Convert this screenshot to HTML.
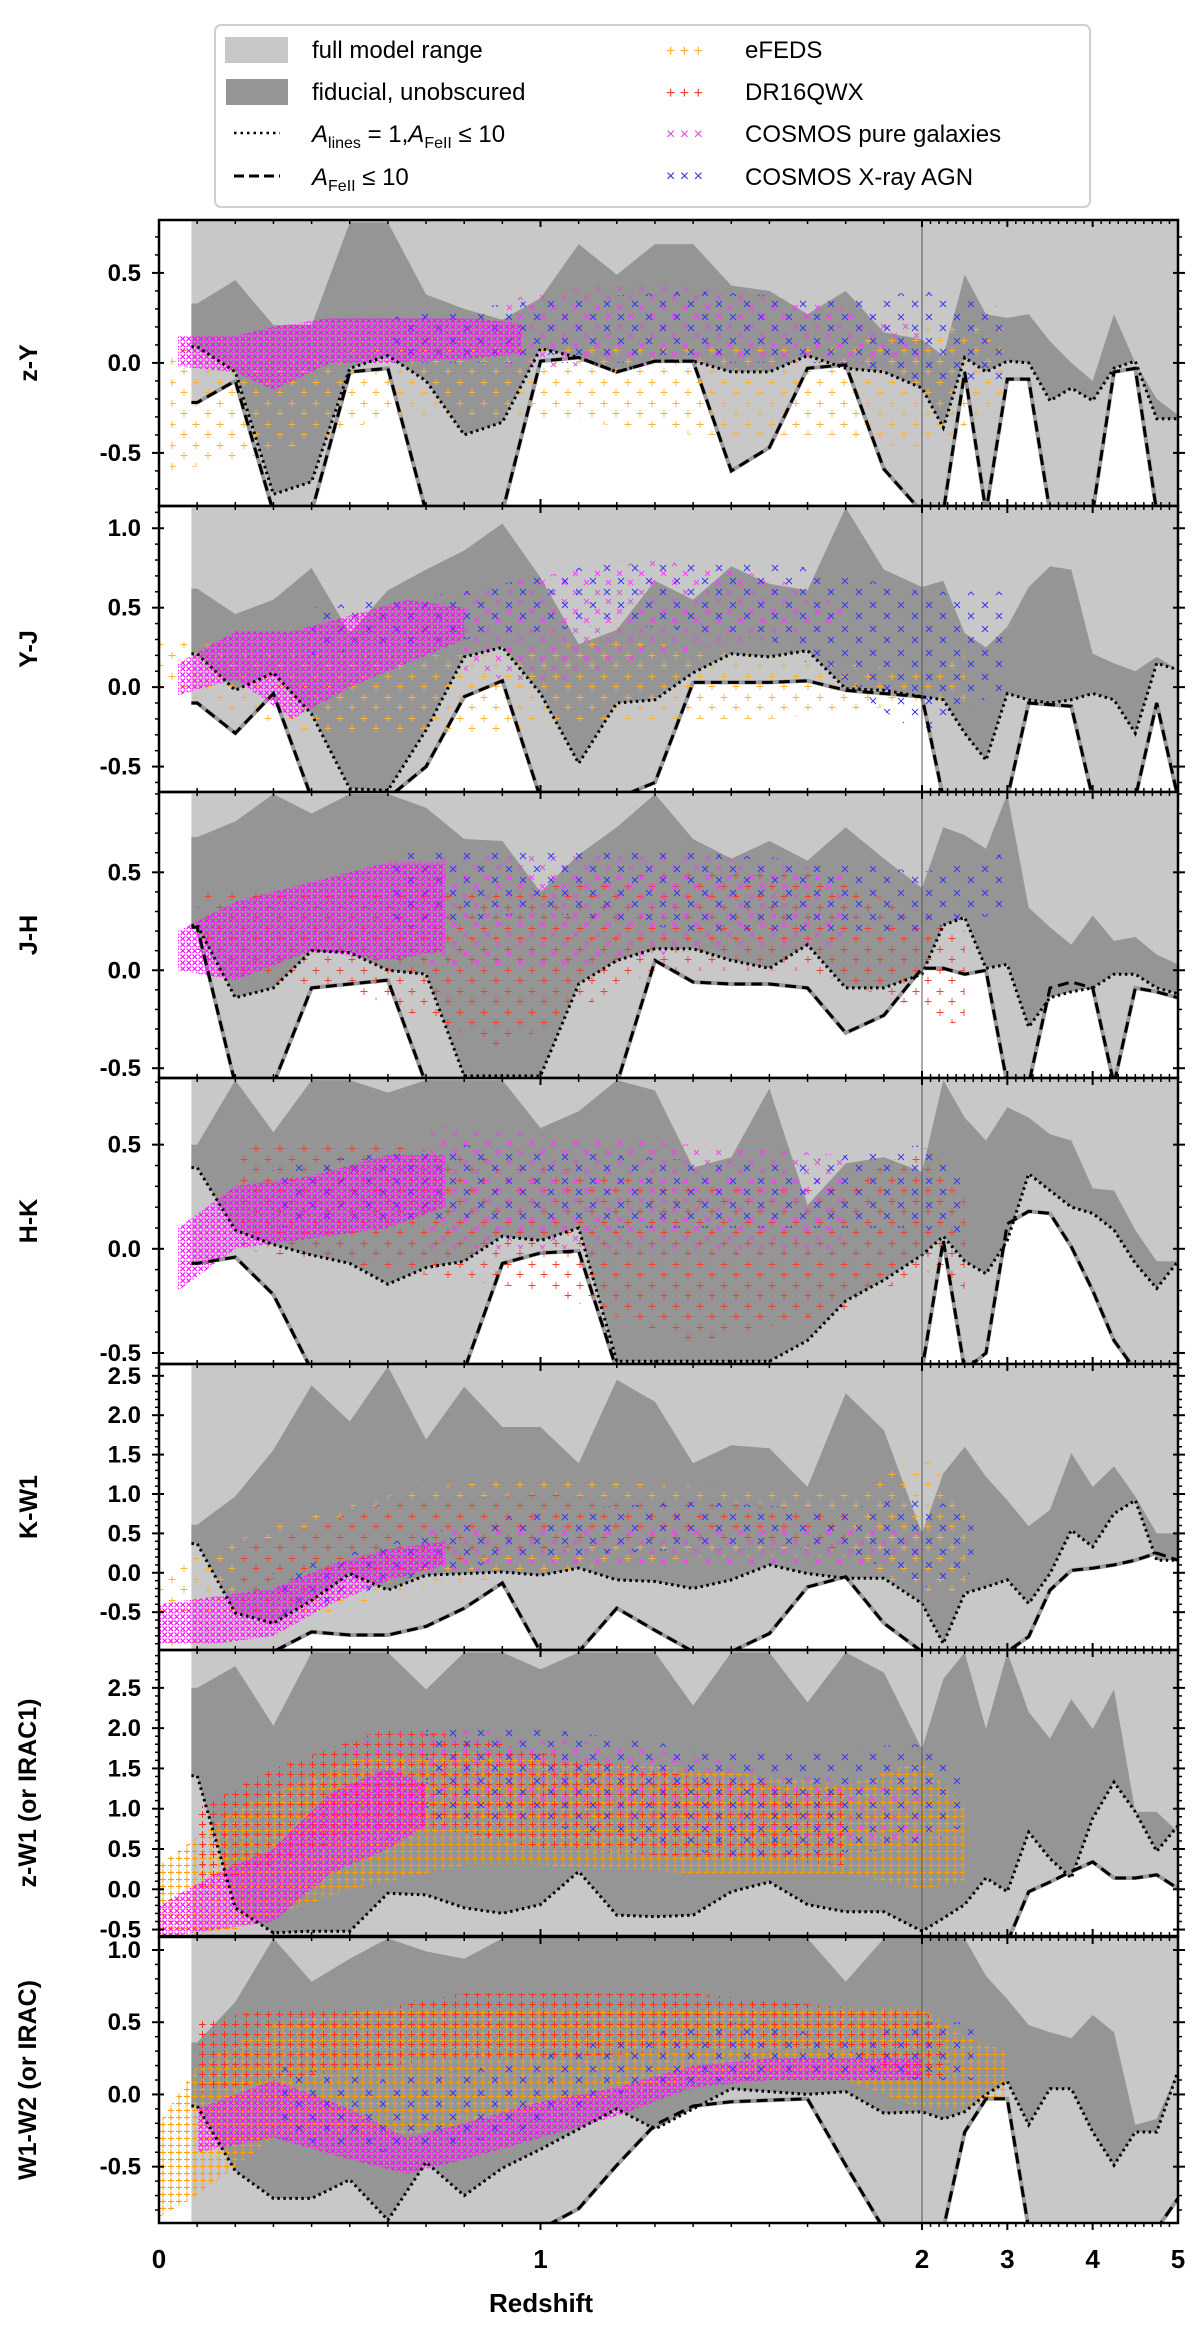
<!DOCTYPE html>
<html><head><meta charset="utf-8">
<style>
html,body{margin:0;padding:0;background:#fff;}
svg{display:block;font-family:"Liberation Sans",Arial,sans-serif;}
</style></head>
<body>
<svg id="chart" width="1200" height="2348" viewBox="0 0 1200 2348" xmlns="http://www.w3.org/2000/svg">
<defs>
<pattern id="magD" patternUnits="userSpaceOnUse" width="6" height="6"><path d="M0.5 0.5L5 5M5 0.5L0.5 5" stroke="#ff00ff" stroke-width="1.1"/></pattern>
<pattern id="magS" patternUnits="userSpaceOnUse" width="22" height="19"><path d="M1 1L6 6M6 1L1 6M12 10L17 15M17 10L12 15" stroke="#f040f0" stroke-width="0.9"/></pattern>
<pattern id="oraD" patternUnits="userSpaceOnUse" width="8" height="7"><path d="M3 0.5V6.5M0 3.5H6" stroke="#ffa000" stroke-width="1.1"/></pattern>
<pattern id="oraS" patternUnits="userSpaceOnUse" width="24" height="21"><path d="M4 1V8M0.5 4.5H7.5M16 11V18M12.5 14.5H19.5" stroke="#ffb030" stroke-width="0.9"/></pattern>
<pattern id="redM" patternUnits="userSpaceOnUse" width="11" height="10"><path d="M4.5 1V8M1 4.5H8" stroke="#ff3020" stroke-width="1"/></pattern>
<pattern id="redS" patternUnits="userSpaceOnUse" width="24" height="21"><path d="M4 1V8M0.5 4.5H7.5M16 11V18M12.5 14.5H19.5" stroke="#f04030" stroke-width="0.9"/></pattern>
<pattern id="bluS" patternUnits="userSpaceOnUse" width="28" height="24"><path d="M2 2L8 8M8 2L2 8M16 13L22 19M22 13L16 19" stroke="#3030ff" stroke-width="0.9"/></pattern>
</defs>
<g id="panels"></g>
<g id="legend">
  <rect x="215" y="25" width="875" height="182" rx="6" fill="#fff" stroke="#cfcfcf" stroke-width="2"/>
  <g>
    <rect x="225" y="37" width="63" height="26" fill="#c8c8c8"/>
    <text x="312" y="58" font-size="24">full model range</text>
  </g>
  <g>
    <rect x="226" y="79" width="62" height="26" fill="#959595"/>
    <text x="312" y="100" font-size="24">fiducial, unobscured</text>
  </g>
  <g>
    <line x1="234" y1="133" x2="280" y2="133" stroke="#000" stroke-width="2.5" stroke-dasharray="2.5,4"/>
    <text x="312" y="142" font-size="24"><tspan font-style="italic">A</tspan><tspan font-size="16" dy="6">lines</tspan><tspan dy="-6"> = 1,</tspan><tspan font-style="italic">A</tspan><tspan font-size="16" dy="6">FeII</tspan><tspan dy="-6"> ≤ 10</tspan></text>
  </g>
  <g>
    <line x1="234" y1="176" x2="280" y2="176" stroke="#000" stroke-width="3" stroke-dasharray="10,5"/>
    <text x="312" y="185" font-size="24"><tspan font-style="italic">A</tspan><tspan font-size="16" dy="6">FeII</tspan><tspan dy="-6"> ≤ 10</tspan></text>
  </g>
  <g>
    <text x="666" y="56" font-size="16" fill="#ffb030">+ + +</text>
    <text x="745" y="58" font-size="24">eFEDS</text>
  </g>
  <g>
    <text x="666" y="98" font-size="16" fill="#f04030">+ + +</text>
    <text x="745" y="100" font-size="24">DR16QWX</text>
  </g>
  <g>
    <text x="666" y="139" font-size="16" fill="#f040f0">× × ×</text>
    <text x="745" y="142" font-size="24">COSMOS pure galaxies</text>
  </g>
  <g>
    <text x="666" y="181" font-size="16" fill="#3030ff">× × ×</text>
    <text x="745" y="185" font-size="24">COSMOS X-ray AGN</text>
  </g>
</g>
</svg>
<script>
const Z=[0.1,0.2,0.3,0.4,0.5,0.6,0.7,0.8,0.9,1.0,1.1,1.2,1.3,1.4,1.5,1.6,1.7,1.8,1.9,2.0,2.25,2.5,2.75,3.0,3.25,3.5,3.75,4.0,4.25,4.5,4.75,5.0];
const TITLES=["z-Y","Y-J","J-H","H-K","K-W1","z-W1 (or IRAC1)","W1-W2 (or IRAC)"];
const YMIN=[-0.795,-0.66,-0.55,-0.553,-0.98,-0.58,-0.89];
const YMAX=[0.794,1.14,0.91,0.82,2.65,2.97,1.09];
const YTICKS=[[-0.5,0,0.5],[-0.5,0,0.5,1.0],[-0.5,0,0.5],[-0.5,0,0.5],[-0.5,0,0.5,1.0,1.5,2.0,2.5],[-0.5,0,0.5,1.0,1.5,2.0,2.5],[-0.5,0,0.5,1.0]];
const XTICKS=[0,1,2,3,4,5];
const XTICK_LABELS=["0","1","2","3","4","5"];

const fidHi1=[0.33,0.46,0.21,0.21,0.78,0.78,0.38,0.30,0.24,0.36,0.66,0.49,0.66,0.66,0.43,0.40,0.27,0.40,0.17,0.13,0.04,0.49,0.27,0.25,0.27,0.12,0.0,-0.10,0.27,0.0,-0.20,-0.29];
const fidLo1=[0.09,-0.05,-0.73,-0.66,-0.03,0.04,-0.10,-0.40,-0.33,0.08,0.03,-0.05,0.01,0.01,-0.05,-0.05,0.04,-0.03,-0.05,-0.14,-0.36,0.03,-0.05,0.01,0.0,-0.21,-0.14,-0.21,-0.03,0.01,-0.31,-0.31];
const fullLo1=[-0.22,-0.1,-1,-1,-0.05,-0.03,-1,-1,-1,0.01,0.03,-0.05,0.01,0.01,-0.6,-0.47,-0.03,-0.01,-0.59,-1,-1,-0.05,-1,-0.09,-0.09,-1,-1,-1,-0.05,-0.03,-1,-1];

const fidHi2=[0.62,0.46,0.55,0.75,0.34,0.61,0.74,0.86,1.03,0.69,0.27,0.36,0.67,0.55,0.76,0.65,0.61,1.13,0.74,0.63,0.67,0.34,0.25,0.38,0.63,0.76,0.74,0.21,0.15,0.1,0.19,0.11];
const fidLo2=[0.21,-0.02,0.09,-0.17,-0.64,-0.65,-0.27,0.19,0.25,-0.04,-0.48,-0.1,-0.08,0.09,0.21,0.19,0.23,-0.01,-0.02,-0.06,-0.08,-0.29,-0.46,-0.04,-0.08,-0.10,-0.08,-0.04,-0.08,-0.29,0.15,0.11];
const fullLo2=[-0.10,-0.29,-0.04,-1,-1,-1,-0.5,-0.06,0.04,-1,-1,-1,-0.6,0.03,0.03,0.03,0.04,-0.02,-0.04,-0.06,-1,-1,-1,-1,-0.10,-0.11,-0.12,-1,-1,-1,-0.10,-1];

const fidHi3=[0.68,0.76,0.9,0.80,0.9,0.9,0.83,0.67,0.66,0.40,0.59,0.73,0.9,0.67,0.57,0.66,0.56,0.73,0.57,0.42,0.73,0.69,0.62,0.9,0.32,0.22,0.13,0.28,0.15,0.17,0.08,0.03];
const fidLo3=[0.23,-0.14,-0.09,0.10,0.09,0.0,-0.02,-0.54,-0.54,-0.54,-0.07,0.05,0.11,0.11,0.05,0.01,0.13,-0.09,-0.09,-0.02,0.23,0.27,0.01,0.03,-0.29,-0.14,-0.11,-0.09,-0.02,-0.02,-0.09,-0.12];
const fullLo3=[0.22,-1,-1,-0.09,-0.07,-0.05,-1,-1,-1,-1,-1,-0.6,0.05,-0.06,-0.07,-0.07,-0.09,-0.32,-0.23,0.01,0.01,-0.02,0.0,-1,-0.6,-0.09,-0.06,-0.09,-1,-0.09,-0.11,-0.14];

const fidHi4=[0.50,0.81,0.56,0.81,0.81,0.75,0.81,0.81,0.81,0.58,0.66,0.81,0.76,0.39,0.44,0.77,0.21,0.41,0.44,0.37,0.81,0.63,0.52,0.68,0.63,0.55,0.52,0.29,0.28,0.09,-0.06,-0.06];
const fidLo4=[0.39,0.09,0.02,-0.03,-0.07,-0.17,-0.09,-0.06,0.06,0.04,0.10,-0.54,-0.54,-0.54,-0.54,-0.54,-0.44,-0.25,-0.15,-0.03,0.06,-0.06,-0.12,0.04,0.36,0.28,0.20,0.17,0.09,-0.07,-0.19,-0.06];
const fullLo4=[-0.07,-0.04,-0.22,-1,-1,-1,-1,-1,-0.07,-0.02,-0.01,-1,-1,-1,-1,-1,-1,-1,-1,-1,0.04,-1,-0.5,0.12,0.18,0.17,0.01,-0.2,-0.44,-1,-1,-1];

const fidHi5=[0.61,0.97,1.56,2.38,1.92,2.62,1.69,2.36,1.85,1.85,1.39,2.45,2.17,1.39,1.62,1.58,1.09,2.28,1.81,0.50,1.26,1.60,1.22,0.92,0.59,0.80,1.52,1.09,1.35,0.97,0.50,0.50];
const fidLo5=[0.37,-0.51,-0.64,-0.35,-0.01,-0.22,-0.03,-0.01,0.01,-0.03,0.06,-0.09,-0.11,-0.20,-0.09,0.10,-0.01,-0.07,-0.07,-0.39,-0.90,-0.26,-0.18,-0.09,-0.39,-0.01,0.54,0.33,0.75,0.92,0.16,0.16];
const fullLo5=[-1,-1,-1,-0.75,-0.79,-0.79,-0.68,-0.45,-0.13,-1,-1,-0.45,-0.73,-1,-1,-0.77,-0.18,-0.05,-0.64,-1,-1,-1,-1,-1,-0.81,-0.22,0.03,0.06,0.10,0.16,0.25,0.16];

const fidHi6=[2.5,2.77,2.03,2.94,2.94,2.94,2.48,2.94,2.94,2.73,2.94,2.94,2.94,2.28,2.94,2.94,2.32,2.94,2.69,1.74,2.61,2.94,1.99,2.94,2.20,1.87,2.36,1.99,2.48,0.96,0.96,0.71];
const fidLo6=[1.41,-0.23,-0.54,-0.52,-0.52,-0.05,-0.07,-0.23,-0.30,-0.19,0.22,-0.32,-0.34,-0.32,-0.03,0.09,-0.19,-0.28,-0.28,-0.52,-0.36,-0.19,0.14,-0.03,0.71,0.38,0.14,0.88,1.33,0.96,0.47,0.79];
const fullLo6=[-1,-1,-1,-1,-1,-1,-1,-1,-1,-1,-1,-1,-1,-1,-1,-1,-1,-1,-1,-1,-1,-1,-1,-1,-0.03,0.09,0.22,0.34,0.14,0.14,0.18,0.01];

const fidHi7=[0.36,0.64,1.08,0.78,0.94,1.08,0.99,0.94,1.08,1.08,1.08,1.08,1.08,1.08,1.08,1.08,1.08,0.78,1.08,1.08,1.08,1.08,0.82,0.66,0.48,0.43,0.39,0.55,0.43,-0.21,-0.17,0.16];
const fidLo7=[-0.08,-0.53,-0.72,-0.72,-0.59,-0.87,-0.47,-0.70,-0.51,-0.38,-0.24,-0.10,-0.24,-0.10,0.04,0.02,0.0,0.02,-0.13,-0.12,-0.17,-0.12,0.0,0.09,-0.21,0.04,0.04,-0.26,-0.49,-0.26,-0.26,0.16];
const fullLo7=[-1,-1,-1,-1,-1,-1,-1,-1,-1,-1,-0.79,-0.49,-0.21,-0.08,-0.05,-0.04,-0.03,-0.49,-1,-1,-1,-0.26,-0.03,-0.03,-1,-1,-1,-1,-1,-1,-1,-0.72];

const FIDHI=[fidHi1,fidHi2,fidHi3,fidHi4,fidHi5,fidHi6,fidHi7];
const FIDLO=[fidLo1,fidLo2,fidLo3,fidLo4,fidLo5,fidLo6,fidLo7];
const FULLLO=[fullLo1,fullLo2,fullLo3,fullLo4,fullLo5,fullLo6,fullLo7];

const p1Ora={z:[0.03,0.3,0.6,1.0,1.4,1.8,2.0,3.0],lo:[-0.6,-0.5,-0.3,-0.3,-0.4,-0.4,-0.5,-0.2],hi:[0.1,0.0,0.1,0.1,0.1,0.1,0.2,0.2]};
const p1MagS={z:[0.9,1.2,1.5,1.8,2.0],lo:[-0.05,0.0,0.0,0.0,0.0],hi:[0.35,0.45,0.4,0.3,0.2]};
const p1Blu={z:[0.6,1.0,1.4,1.8,2.0,3.0],lo:[0.0,0.0,0.0,0.0,-0.1,-0.1],hi:[0.25,0.35,0.4,0.35,0.4,0.3]};
const p1MagD={z:[0.05,0.2,0.3,0.45,0.6,0.8,0.95],lo:[-0.02,-0.05,-0.15,0.0,0.0,0.02,0.05],hi:[0.15,0.15,0.2,0.25,0.25,0.25,0.22]};

const p2Ora={z:[0.0,0.4,0.8,1.2,1.6,2.0,2.5],lo:[0.0,-0.3,-0.3,-0.2,-0.2,-0.1,-0.1],hi:[0.3,0.2,0.2,0.3,0.2,0.1,0.2]};
const p2MagS={z:[0.8,1.0,1.3,1.6,1.8],lo:[0.1,0.0,0.2,0.3,0.4],hi:[0.6,0.7,0.8,0.7,0.5]};
const p2Blu={z:[0.4,0.8,1.2,1.6,2.0,3.0],lo:[0.2,0.3,0.4,0.3,-0.3,0.0],hi:[0.5,0.6,0.8,0.8,0.6,0.6]};
const p2MagD={z:[0.05,0.2,0.35,0.5,0.65,0.8],lo:[-0.05,0.05,-0.2,0.0,0.15,0.3],hi:[0.15,0.35,0.35,0.45,0.55,0.5]};

const p3Red={z:[0.1,0.5,0.9,1.3,1.7,2.0,2.5],lo:[0.0,-0.1,-0.4,0.0,0.0,-0.2,-0.3],hi:[0.4,0.4,0.4,0.5,0.5,0.3,0.2]};
const p3MagS={z:[0.7,1.0,1.4,1.8],lo:[0.0,0.0,0.1,0.1],hi:[0.6,0.6,0.6,0.5]};
const p3Blu={z:[0.6,1.0,1.4,1.8,2.0,3.0],lo:[0.2,0.3,0.2,0.2,0.2,0.3],hi:[0.6,0.6,0.6,0.55,0.5,0.6]};
const p3MagD={z:[0.05,0.2,0.4,0.6,0.75],lo:[0.0,-0.05,0.1,0.05,0.1],hi:[0.2,0.35,0.45,0.55,0.55]};

const p4Red={z:[0.2,0.6,1.0,1.4,1.8,2.0,2.5],lo:[0.0,-0.1,-0.2,-0.45,-0.3,-0.1,-0.2],hi:[0.5,0.5,0.4,0.3,0.3,0.5,0.3]};
const p4MagS={z:[0.7,1.0,1.4,1.8],lo:[0.0,0.0,0.0,0.0],hi:[0.6,0.55,0.5,0.45]};
const p4Blu={z:[0.3,0.8,1.2,1.6,2.0,2.5],lo:[0.1,0.15,0.1,0.1,0.1,0.05],hi:[0.4,0.5,0.45,0.4,0.5,0.4]};
const p4MagD={z:[0.05,0.2,0.4,0.6,0.75],lo:[-0.2,0.0,0.05,0.1,0.2],hi:[0.1,0.3,0.35,0.45,0.45]};

const p5Ora={z:[0.0,0.3,0.7,1.0,1.4,1.8,2.0,2.5],lo:[-1.0,-0.7,-0.2,0.0,0.2,0.2,-0.3,-0.3],hi:[0.0,0.6,1.1,1.2,1.1,1.0,1.5,0.9]};
const p5Red={z:[0.2,0.6,1.0,1.4,1.8],lo:[-0.6,0.0,0.3,0.4,0.3],hi:[0.3,0.9,1.0,0.9,0.8]};
const p5MagS={z:[0.7,1.0,1.4,1.8,2.0],lo:[0.0,0.1,0.1,0.1,0.2],hi:[0.6,0.6,0.6,0.6,0.5]};
const p5Blu={z:[0.3,0.7,1.0,1.4,1.8,2.0,2.6],lo:[-0.6,0.0,0.2,0.3,0.3,-0.2,0.0],hi:[0.0,0.5,0.8,0.9,0.8,1.0,0.7]};
const p5MagD={z:[0.0,0.15,0.3,0.45,0.6,0.75],lo:[-0.9,-0.9,-0.8,-0.4,-0.1,0.1],hi:[-0.4,-0.3,-0.2,0.1,0.3,0.4]};

const p6Ora={z:[0.0,0.2,0.5,0.8,1.0,1.4,1.8,2.0,2.5],lo:[-0.6,-0.5,0.0,0.3,0.3,0.2,0.2,0.0,0.1],hi:[0.3,1.0,1.6,1.7,1.6,1.5,1.3,1.6,1.0]};
const p6Red={z:[0.1,0.3,0.6,0.8,1.0,1.4,1.8],lo:[0.0,0.3,0.8,0.7,0.5,0.4,0.3],hi:[1.0,1.5,2.0,1.9,1.7,1.4,1.2]};
const p6MagS={z:[0.5,0.8,1.2,1.6,2.0],lo:[0.5,0.8,0.8,0.7,0.5],hi:[1.9,2.0,1.8,1.5,1.2]};
const p6Blu={z:[0.7,1.0,1.5,2.0,2.5],lo:[0.8,0.8,0.4,0.5,0.8],hi:[2.0,2.0,1.7,1.8,1.5]};
const p6MagD={z:[0.0,0.15,0.3,0.45,0.6,0.7],lo:[-0.6,-0.5,-0.4,0.2,0.5,0.8],hi:[-0.2,0.2,0.5,1.2,1.5,1.3]};

const p7Ora={z:[0.0,0.1,0.3,0.6,1.0,1.4,1.8,2.0,2.5,3.0],lo:[-0.85,-0.7,-0.3,-0.3,-0.1,0.1,0.1,-0.1,-0.1,0.0],hi:[-0.2,0.2,0.5,0.6,0.6,0.6,0.6,0.6,0.4,0.3]};
const p7Red={z:[0.1,0.3,0.6,0.8,1.0,1.4,1.8,2.0,2.3],lo:[0.0,0.1,0.2,0.25,0.25,0.3,0.3,0.1,0.1],hi:[0.5,0.6,0.6,0.7,0.7,0.7,0.6,0.6,0.4]};
const p7MagD={z:[0.1,0.3,0.5,0.65,0.8,1.0,1.2,1.4,1.6,1.8,2.0],lo:[-0.4,-0.3,-0.45,-0.55,-0.45,-0.3,-0.15,0.05,0.1,0.1,0.1],hi:[-0.1,0.1,-0.1,-0.3,-0.2,-0.05,0.05,0.2,0.25,0.25,0.25]};
const p7Blu={z:[0.3,0.6,0.9,1.2,1.5,1.8,2.0,2.6],lo:[-0.3,-0.4,-0.3,0.0,0.1,0.15,0.1,0.1],hi:[0.2,0.1,0.2,0.4,0.5,0.4,0.5,0.5]};

const CLOUDS=[
 [[p1Ora,'oraS','efeds'],[p1MagS,'magS','cosmos-galaxies'],[p1Blu,'bluS','cosmos-agn'],[p1MagD,'magD','cosmos-galaxies']],
 [[p2Ora,'oraS','efeds'],[p2MagS,'magS','cosmos-galaxies'],[p2Blu,'bluS','cosmos-agn'],[p2MagD,'magD','cosmos-galaxies']],
 [[p3Red,'redS','dr16qwx'],[p3MagS,'magS','cosmos-galaxies'],[p3Blu,'bluS','cosmos-agn'],[p3MagD,'magD','cosmos-galaxies']],
 [[p4Red,'redS','dr16qwx'],[p4MagS,'magS','cosmos-galaxies'],[p4Blu,'bluS','cosmos-agn'],[p4MagD,'magD','cosmos-galaxies']],
 [[p5Ora,'oraS','efeds'],[p5Red,'redS','dr16qwx'],[p5MagS,'magS','cosmos-galaxies'],[p5Blu,'bluS','cosmos-agn'],[p5MagD,'magD','cosmos-galaxies']],
 [[p6Ora,'oraD','efeds'],[p6Red,'redM','dr16qwx'],[p6MagS,'magS','cosmos-galaxies'],[p6Blu,'bluS','cosmos-agn'],[p6MagD,'magD','cosmos-galaxies']],
 [[p7Ora,'oraD','efeds'],[p7Red,'redM','dr16qwx'],[p7MagD,'magD','cosmos-galaxies'],[p7Blu,'bluS','cosmos-agn']]
];

const TOPS=[220,506,792,1078,1364,1650,1937];
const H=286, XL=159, XR=1178;
const NS="http://www.w3.org/2000/svg";
function xS(z){return z<=2?XL+381.5*z:922+(z-2)*85.33;}
function yS(p,v){let y=TOPS[p]+(YMAX[p]-v)/(YMAX[p]-YMIN[p])*H;return Math.max(TOPS[p]-6,Math.min(TOPS[p]+H+6,y));}
function mk(tag,attrs,parent){const e=document.createElementNS(NS,tag);for(const k in attrs)e.setAttribute(k,attrs[k]);parent.appendChild(e);return e;}
function pts(arr){return arr.map(p=>p[0].toFixed(1)+','+p[1].toFixed(1)).join(' ');}

const root=document.getElementById('panels');
const defs=document.querySelector('defs');
for(let p=0;p<7;p++){
  const top=TOPS[p],bot=top+H;
  const cp=mk('clipPath',{id:'clip'+p},defs);
  mk('rect',{x:XL,y:top,width:XR-XL,height:H},cp);
  const g=mk('g',{},root);
  
  
  const c=mk('g',{'clip-path':'url(#clip'+p+')'},g);
  const x0=xS(0.085);
  const lo=FULLLO[p].map((v,i)=>[xS(Z[i]),yS(p,v)]);
  const full=[[x0,top-6],[XR+6,top-6],[XR+6,lo[lo.length-1][1]]].concat(lo.slice().reverse()).concat([[x0,lo[0][1]]]);
  const fr=mk('polygon',{points:pts(full),fill:'#c8c8c8'},c);
  
  
  mk('polyline',{points:pts([[x0,lo[0][1]]].concat(lo)),fill:'none',stroke:'#9a9a9a','stroke-width':4},c);
  const hi=FIDHI[p].map((v,i)=>[xS(Z[i]),yS(p,v)]);
  const fl=FIDLO[p].map((v,i)=>[xS(Z[i]),yS(p,v)]);
  const fidPts=[[x0,hi[0][1]]].concat(hi).concat(fl.slice().reverse()).concat([[x0,fl[0][1]]]);
  const fd=mk('polygon',{points:pts(fidPts),fill:'#959595'},c);
  
  
  CLOUDS[p].forEach(cl=>{
    const d=cl[0];
    const up=d.z.map((z,i)=>[xS(z),yS(p,d.hi[i])]);
    const dn=d.z.map((z,i)=>[xS(z),yS(p,d.lo[i])]).reverse();
    const poly=mk('polygon',{points:pts(up.concat(dn)),fill:'url(#'+cl[1]+')',stroke:'none'},c);
    
    
  });
  const dl=mk('polyline',{points:pts([[x0,fl[0][1]]].concat(fl)),fill:'none',stroke:'#000','stroke-width':3,'stroke-dasharray':'2.5,3.5'},c);
  
  
  const dsh=mk('polyline',{points:pts([[x0,lo[0][1]]].concat(lo)),fill:'none',stroke:'#000','stroke-width':3,'stroke-dasharray':'11,6'},c);
  
  
  mk('line',{x1:xS(2),x2:xS(2),y1:top,y2:bot,stroke:'#555','stroke-width':1},g);
  const fr2=mk('rect',{x:XL,y:top,width:XR-XL,height:H,fill:'none',stroke:'#000','stroke-width':2.5},g);
  
  
  for(let v=Math.ceil(YMIN[p]*10)/10;v<=YMAX[p]+1e-9;v+=0.1){
    const y=yS(p,v);const maj=Math.abs(v*2-Math.round(v*2))<1e-6;
    const L=maj?7:4;
    mk('line',{x1:XL-L,x2:XL+(maj?5:0),y1:y,y2:y,stroke:'#000','stroke-width':maj?2:1.5},g);
    mk('line',{x1:XR+L,x2:XR-(maj?5:0),y1:y,y2:y,stroke:'#000','stroke-width':maj?2:1.5},g);
  }
  YTICKS[p].forEach(v=>{
    const t=mk('text',{x:141,y:yS(p,v)+8,'text-anchor':'end','font-size':24,'font-weight':'bold'},g);
    t.textContent=v.toFixed(1);
    
    
  });
  for(let k=1;k<50;k++){
    const z=k/10;if(z>5)break;
    const x=xS(z);const maj=Math.abs(z-Math.round(z))<1e-6;
    const L=maj?7:4;
    mk('line',{x1:x,x2:x,y1:top,y2:top+L,stroke:'#000','stroke-width':maj?2:1.5},g);
    mk('line',{x1:x,x2:x,y1:bot,y2:bot+(p==6?L:-L),stroke:'#000','stroke-width':maj?2:1.5},g);
  }
  const yt=mk('text',{x:0,y:0,'text-anchor':'middle','font-size':25,'font-weight':'bold',transform:'translate('+(p>=5?36:37)+','+(top+H/2)+') rotate(-90)'},g);
  yt.textContent=TITLES[p];
  
  
}
const svg=document.getElementById('chart');
XTICKS.forEach((z,i)=>{
  const t=mk('text',{x:xS(z),y:2268,'text-anchor':'middle','font-size':26,'font-weight':'bold'},svg);
  t.textContent=XTICK_LABELS[i];
  
  
});
const xt=mk('text',{x:541,y:2312,'text-anchor':'middle','font-size':26,'font-weight':'bold'},svg);
xt.textContent='Redshift';


</script>
</body></html>
